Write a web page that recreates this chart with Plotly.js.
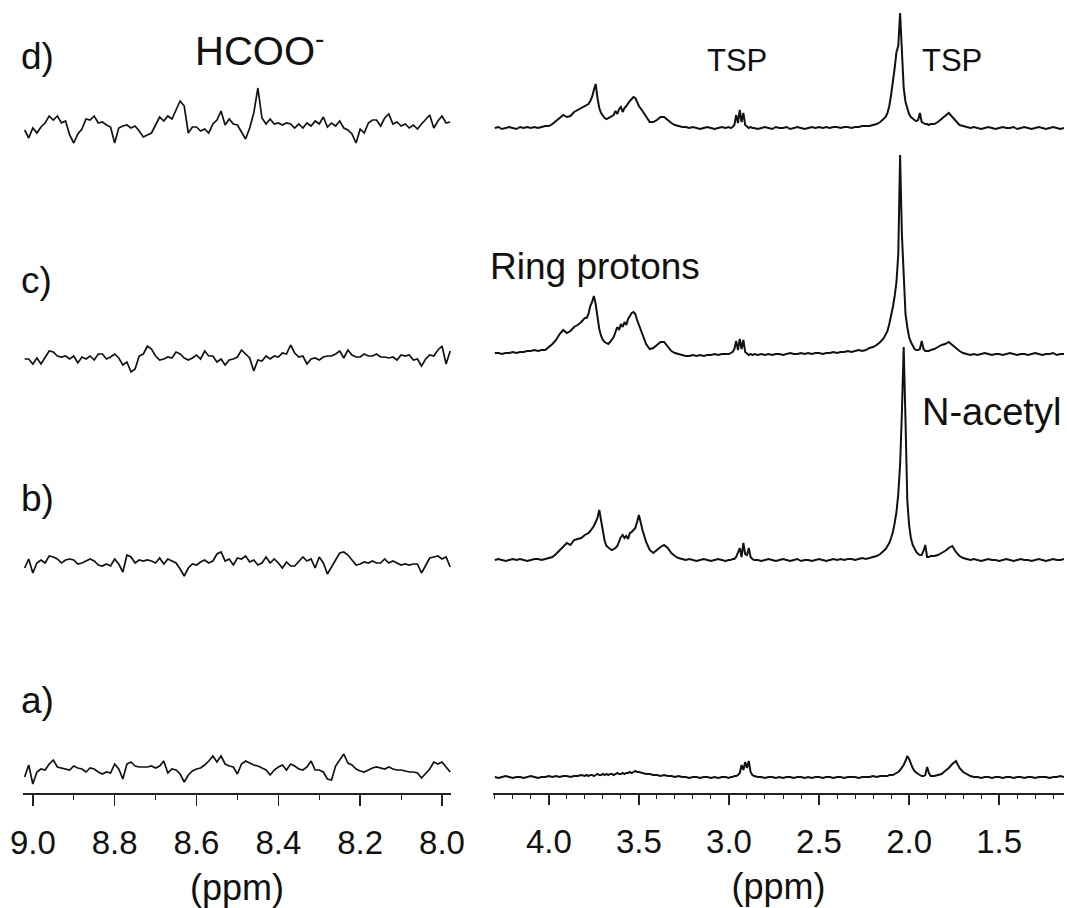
<!DOCTYPE html>
<html><head><meta charset="utf-8">
<script src="https://cdn.plot.ly/plotly-3.0.1.min.js"></script>
<style>html,body{margin:0;padding:0;background:#fff}#chart{width:1067px;height:908px}</style>
</head><body><div id="chart"></div>
<script>
// ---------- data: left panel (8.0 - 9.0 ppm) ----------
const leftPpm = [9.02,9.01,9.00,8.99,8.98,8.97,8.96,8.95,8.94,8.93,
8.92,8.91,8.90,8.89,8.88,8.87,8.86,8.85,8.84,8.83,
8.82,8.81,8.80,8.79,8.78,8.77,8.76,8.75,8.74,8.73,
8.72,8.71,8.70,8.69,8.68,8.67,8.66,8.65,8.64,8.63,
8.62,8.61,8.60,8.59,8.58,8.57,8.56,8.55,8.54,8.53,
8.52,8.51,8.50,8.49,8.48,8.47,8.46,8.45,8.44,8.43,
8.42,8.41,8.40,8.39,8.38,8.37,8.36,8.35,8.34,8.33,
8.32,8.31,8.30,8.29,8.28,8.27,8.26,8.25,8.24,8.23,
8.22,8.21,8.20,8.19,8.18,8.17,8.16,8.15,8.14,8.13,
8.12,8.11,8.10,8.09,8.08,8.07,8.06,8.05,8.04,8.03,
8.02,8.01,8.00,7.99,7.98];
const leftD = [-3,-11,-1,-6,0,4,11,7,11,4, 6,-8,-16,-7,-2,8,7,11,4,5, 2,0,-16,-1,1,2,-1,1,-4,-10,
 -8,-6,2,10,6,11,8,17,26,21, -6,0,0,-4,-2,-6,3,7,16,2, 8,3,2,-5,-12,-1,14,39,9,3,
 8,3,4,2,4,3,-1,3,-1,4, 1,6,3,10,0,4,1,6,-1,-3, -7,-16,-2,-6,4,7,7,1,9,13,
 3,5,1,3,-1,2,-2,3,7,12, -1,6,11,4,5];
const leftC = [-2,-2,-7,-1,-7,0,6,5,1,0, 1,-2,1,-6,0,-2,1,-3,3,3, -2,0,3,-1,-8,-5,-15,-12,1,3,
 11,8,1,-3,-2,0,-1,5,3,-1, -3,-1,2,-2,6,1,1,-5,-2,-8, -3,-2,0,7,3,-1,-14,-3,-4,1,
 -2,1,0,4,3,12,4,0,1,-7, -2,-1,-3,0,1,1,3,6,-1,7, 2,0,0,3,1,1,3,0,0,-1,
 0,-3,2,1,2,-3,-2,-9,-2,2, 1,7,11,-7,6];
const leftB = [-3,6,-8,2,5,2,9,8,6,2, 5,6,5,1,2,4,6,4,0,-1, 1,-1,6,1,-7,10,8,2,5,4,
 5,4,2,7,1,6,4,2,-4,-11, -3,1,0,3,5,2,4,11,13,4, 6,0,7,6,9,3,5,0,2,8,
 2,6,2,-3,3,-1,-1,4,8,4, 6,-3,8,2,-9,-2,5,12,13,10, 5,0,1,3,2,4,2,2,6,2,
 4,2,0,1,0,1,1,-8,-1,7, 8,9,6,8,-2];
const leftA = [-5,7,-12,0,3,2,8,12,5,4, 3,2,6,4,3,0,4,3,0,-2, 0,-1,8,3,-7,8,10,6,5,5,
 5,6,4,6,11,-1,3,2,-2,-10, -3,1,3,4,7,11,16,10,16,8, 6,5,-2,8,11,9,7,6,4,2,
 -3,2,5,7,2,8,6,3,2,5, 11,2,2,0,-7,-8,6,12,18,9, 7,3,1,0,2,4,5,4,3,5,
 3,2,2,1,0,0,-1,-6,-2,3, 10,8,10,5,0];

// ---------- data: right panel (1.1 - 4.3 ppm) ----------
const rightPpm = [
 4.30,4.28,4.26,4.24,4.22,4.20,4.18,4.16,4.14,4.12,4.10,4.08,4.06,4.04,4.02,4.00,3.98,3.96,3.94,3.92,3.90,3.88,3.86,3.84,3.82,
 3.80,3.79,3.78,3.77,3.76,3.75,3.74,3.73,3.72,3.71,3.70,3.69,3.68,3.67,3.66,3.65,3.64,3.63,3.62,3.61,3.60,3.59,3.58,3.57,3.56,3.55,3.54,3.53,3.52,3.51,3.50,
 3.48,3.46,3.44,3.42,3.40,3.38,3.36,3.34,3.32,3.30,3.28,3.26,3.24,3.22,3.20,3.18,3.16,3.14,3.12,3.10,3.08,3.06,3.04,3.02,3.00,
 2.99,2.98,2.97,2.96,2.95,2.94,2.93,2.92,2.91,2.90,2.89,2.88,2.87,2.86,
 2.84,2.82,2.80,2.78,2.76,2.74,2.72,2.70,2.68,2.66,2.64,2.62,2.60,2.58,2.56,2.54,2.52,2.50,2.48,2.46,2.44,2.42,2.40,2.38,2.36,2.34,2.32,2.30,2.28,2.26,2.24,2.22,2.20,2.18,2.16,2.14,
 2.13,2.12,2.11,2.10,2.09,2.08,2.07,2.06,2.05,2.04,2.03,2.02,2.01,2.00,1.99,1.98,1.97,1.96,1.95,1.94,1.93,1.92,1.91,1.90,1.89,1.88,
 1.86,1.84,1.82,1.80,1.78,1.76,1.74,1.72,1.70,1.68,1.66,1.64,1.62,1.60,1.58,1.56,1.54,1.52,1.50,1.48,1.46,1.44,1.42,1.40,1.38,1.36,1.34,1.32,1.30,1.28,1.26,1.24,1.22,1.20,1.18,1.16,1.14];
const rightD = [
 0,1,-1,0,1,0,-1,1,0,1,0,1,0,1,2,2,4,7,10,13,11,12,16,18,20,
 22,23,24,27,31,38,44,30,20,15,12,10,9,10,11,12,13,17,14,19,21,16,20,22,25,27,29,31,30,26,22,
 17,12,6,6,8,11,11,8,5,3,2,1,1,0,1,0,-1,0,1,0,-1,0,1,0,1,
 0,1,3,13,5,18,6,15,3,1,0,1,0,0,
 -1,0,1,0,-1,1,0,0,1,-1,0,1,0,-1,0,1,0,1,0,1,0,1,1,0,1,1,0,1,1,2,2,2,3,4,6,9,
 11,15,22,33,45,60,76,82,115,72,40,26,19,14,11,9,8,7,8,15,6,5,4,4,3,4,
 4,6,9,12,15,11,7,3,2,1,0,1,0,-1,0,1,0,-1,0,1,0,0,1,-1,0,1,0,-1,0,1,0,-1,0,1,0,-1,0];
const rightC = [
 1,1,0,1,1,2,1,2,2,3,3,4,3,4,4,7,10,14,20,24,21,23,27,29,32,
 36,36,40,48,52,58,50,38,25,18,14,12,11,10,12,14,17,22,27,24,30,27,32,29,35,38,41,42,40,34,29,
 20,10,5,6,9,12,12,7,3,1,0,-1,-2,-2,-1,-2,-1,-2,-1,-1,0,-1,0,0,0,
 1,2,5,13,4,15,5,14,2,0,-1,0,-1,0,
 -1,0,-1,0,-1,0,0,-1,0,1,0,0,1,0,1,0,1,1,0,1,1,2,1,2,2,3,2,3,4,3,4,6,7,9,12,16,
 19,23,30,38,47,58,72,100,199,120,75,40,27,17,12,8,5,4,4,5,13,5,3,3,3,4,
 5,7,9,10,12,9,6,3,1,0,-1,0,-1,0,1,0,-1,0,0,-1,0,1,0,-1,0,0,-1,0,1,0,-1,0,0,1,-1,0,0];
const rightB = [
 0,1,0,-1,0,1,0,1,0,-1,0,1,1,0,1,2,3,6,10,14,17,15,20,21,22,
 25,26,27,29,31,34,38,42,50,38,27,19,14,12,11,10,11,12,14,19,23,25,22,24,21,27,28,30,32,38,45,
 30,18,10,7,10,13,15,12,7,4,2,1,0,1,0,-1,0,1,0,-1,0,1,0,-1,0,
 0,1,1,3,8,12,3,17,6,5,12,3,1,0,
 0,-1,0,1,0,-1,0,1,0,-1,0,1,-1,0,0,-1,0,1,0,-1,0,1,0,1,0,1,1,0,1,2,1,2,3,4,6,9,
 11,14,17,22,28,37,48,66,95,147,213,140,60,35,22,15,11,8,6,5,5,9,15,3,3,4,
 4,5,7,9,12,14,8,4,2,1,0,1,0,-1,0,1,0,0,-1,0,1,0,-1,0,1,0,0,-1,0,1,0,-1,0,1,0,0,1];
const rightA = [
 0,-1,0,1,0,-1,0,0,-1,0,1,0,-1,0,0,1,0,1,0,1,1,0,1,1,2,
 1,2,1,2,2,1,2,3,2,2,3,2,3,2,3,3,2,3,4,3,3,4,3,4,4,5,4,5,6,5,5,
 4,3,3,2,2,1,2,1,1,0,1,0,0,-1,0,0,-1,0,0,-1,0,-1,0,0,-1,
 0,0,1,1,2,4,12,7,15,9,16,5,2,1,
 0,0,-1,0,0,-1,0,-1,0,0,-1,0,0,-1,0,-1,0,0,-1,0,0,-1,0,0,-1,0,0,0,-1,0,0,0,1,0,1,1,
 1,1,2,2,2,3,4,5,7,9,12,16,21,18,13,9,6,4,3,2,1,1,2,10,4,1,
 1,2,3,6,9,13,16,9,5,3,1,0,0,-1,0,0,-1,0,0,-1,0,0,-1,0,0,-1,0,0,-1,0,0,0,-1,0,0,1,0];

const spectrumNames = ['d)','c)','b)','a)'];
const leftTickLabels = ['9.0','8.8','8.6','8.4','8.2','8.0'];
const rightTickLabels = ['4.0','3.5','3.0','2.5','2.0','1.5'];
const leftTickVals = [9.0,8.8,8.6,8.4,8.2,8.0];
const rightTickVals = [4.0,3.5,3.0,2.5,2.0,1.5];

// ---------- layout constants (stack offsets, in plot px units) ----------
const H = 793;                       // plot height in px == y units
const leftBase  = [666, 436, 228, 21];
const rightBase = [665, 439, 233, 16];
const FONT = 'Liberation Sans, Arial, Helvetica, sans-serif';

const leftSets  = [leftD, leftC, leftB, leftA];
const rightSets = [rightD, rightC, rightB, rightA];

const traces = [];
leftSets.forEach((vals, k) => traces.push({
  type:'scatter', mode:'lines', xaxis:'x', yaxis:'y', name: spectrumNames[k],
  x: leftPpm, y: vals.map(v => leftBase[k] + v),
  line:{color:'#111', width:1.7}, hoverinfo:'skip', showlegend:false
}));
rightSets.forEach((vals, k) => traces.push({
  type:'scatter', mode:'lines', xaxis:'x2', yaxis:'y', name: spectrumNames[k],
  x: rightPpm, y: vals.map(v => rightBase[k] + v),
  line:{color:'#111', width:2}, hoverinfo:'skip', showlegend:false
}));

const W = 1067, L = 23, R = 3, PW = W - L - R;
const px = p => (p - L) / PW;   // pixel x -> paper x
const py = p => H - p;          // pixel y -> data y

const axisCommon = {
  showgrid:false, zeroline:false, showline:true, linecolor:'#222', linewidth:1.5,
  ticks:'outside', tickcolor:'#222', tickwidth:1.5, ticklen:11,
  tickfont:{family:FONT, size:33, color:'#111'}, ticklabelstandoff:9,
  anchor:'y', fixedrange:true,
  title:{text:'(ppm)', font:{family:FONT, size:36, color:'#111'}, standoff:14}
};

const layout = {
  width:W, height:908, margin:{l:L, r:R, t:0, b:908-H, pad:0},
  paper_bgcolor:'#fff', plot_bgcolor:'#fff', showlegend:false,
  xaxis: Object.assign({}, axisCommon, {
    domain:[0, px(451)], range:[9.024, 7.978],
    tickmode:'array', tickvals:leftTickVals, ticktext:leftTickLabels,
    minor:{tickmode:'linear', tick0:8.0, dtick:0.1, ticks:'outside', ticklen:5, tickwidth:1, tickcolor:'#222', showgrid:false}
  }),
  xaxis2: Object.assign({}, axisCommon, {
    domain:[px(493), 1], range:[4.31, 1.14],
    tickmode:'array', tickvals:rightTickVals, ticktext:rightTickLabels, ticklen:10,
    minor:{tickmode:'linear', tick0:1.0, dtick:0.1, ticks:'outside', ticklen:4, tickwidth:1, tickcolor:'#222', showgrid:false}
  }),
  yaxis:{range:[0, H], visible:false, fixedrange:true},
  annotations: [
    {text:'d)', x:px(20), y:py(56)},
    {text:'c)', x:px(20), y:py(280)},
    {text:'b)', x:px(20), y:py(498)},
    {text:'a)', x:px(20), y:py(700)},
    {text:'HCOO<sup>-</sup>', x:px(194), y:py(48), size:40},
    {text:'TSP', x:px(706), y:py(60), size:31},
    {text:'TSP', x:px(921), y:py(60), size:31},
    {text:'Ring protons', x:px(489), y:py(266), size:37},
    {text:'N-acetyl', x:px(921), y:py(412), size:38}
  ].map(a => ({
    text:a.text, x:a.x, y:a.y, xref:'paper', yref:'y', xanchor:'left', yanchor:'middle',
    showarrow:false, borderpad:0, font:{family:FONT, size:a.size || 37, color:'#111'}
  }))
};

Plotly.newPlot('chart', traces, layout, {staticPlot:true, displayModeBar:false});
</script>
</body></html>
